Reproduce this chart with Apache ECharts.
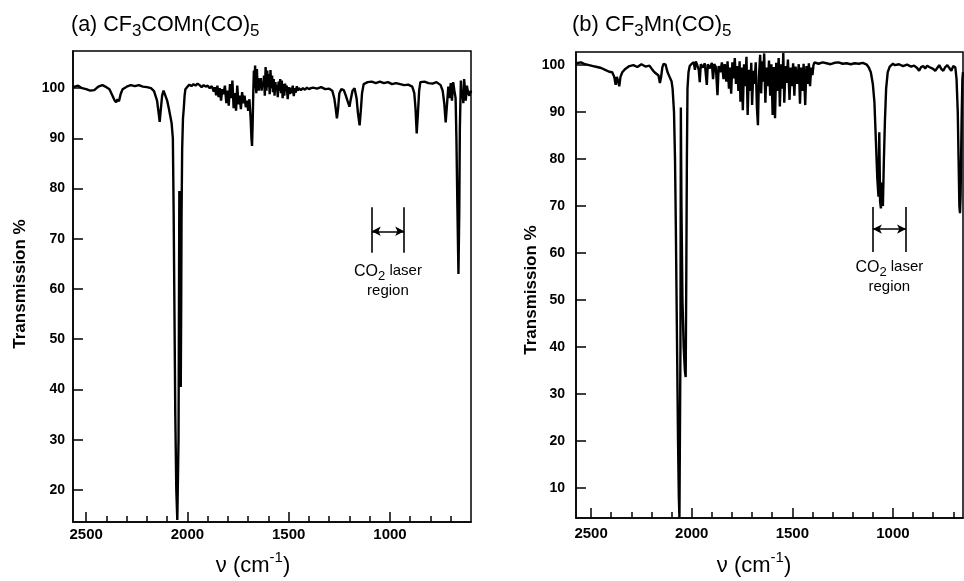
<!DOCTYPE html>
<html><head><meta charset="utf-8">
<script src="https://cdn.jsdelivr.net/npm/echarts@6/dist/echarts.min.js"></script>
<style>html,body{margin:0;padding:0;background:#fff}#c{width:964px;height:581px}</style>
</head><body><div id="c"></div>
<script>
// ---- data: [wavenumber cm-1, transmission %] ----
const specA = [
[2565,100.2],[2540,100.5],[2520,100.0],[2500,99.8],[2480,99.5],[2460,99.6],[2440,100.3],[2420,100.6],[2400,100.2],[2385,99.8],
[2370,98.5],[2360,97.6],[2352,97.2],[2345,97.8],[2338,97.4],[2330,98.8],[2320,99.8],[2300,100.3],[2280,100.6],[2260,100.4],
[2240,100.6],[2220,100.3],[2200,100.2],[2180,100.0],[2165,99.4],[2150,97.5],[2142,95],[2137,93.3],[2132,95.5],[2125,98.5],
[2118,99.5],[2110,99.2],[2100,97.5],[2092,96],[2085,94.5],[2078,93],[2072,90],[2068,75],[2064,55],[2060,35],
[2055,20],[2050,14],[2047,14],[2044,30],[2042,55],[2040,79.5],[2038,65],[2035,45],[2033,40.5],[2031,55],
[2029,75],[2026,88],[2022,94],[2018,96],[2014,98.5],[2010,99.8],[2000,100.3],[1990,100.7],[1980,100.4],[1970,100.8],
[1960,100.5],[1950,100.9],[1940,100.6],[1930,100.2],[1920,100.6],[1910,100.3],[1900,100.5],[1890,100.0],[1880,100.4],[1870,99.3],
[1865,100.2],[1858,98.6],[1852,100.5],[1846,98.2],[1840,100.0],[1834,97.5],[1828,99.8],[1822,98.8],[1815,100.5],[1808,97.0],
[1802,99.5],[1796,96.5],[1790,100.8],[1784,98.0],[1778,101.5],[1772,96.0],[1766,99.0],[1760,95.5],[1754,100.5],[1748,96.8],
[1742,98.5],[1736,95.8],[1730,99.2],[1724,97.0],[1718,98.5],[1712,96.2],[1706,97.5],[1700,95.5],[1694,97.8],[1688,94],
[1684,90],[1681,88.5],[1678,93],[1675,99],[1672,103.5],[1669,100],[1666,104.5],[1663,101],[1660,99.0],[1657,103.8],
[1654,100.5],[1651,102],[1648,99.5],[1645,101.5],[1642,100],[1638,102],[1634,99.5],[1630,101],[1626,100.5],[1622,102.5],
[1618,98.5],[1614,104.2],[1610,99.5],[1606,103.5],[1602,100.2],[1598,102.8],[1594,98.8],[1590,103.6],[1586,100.0],[1582,102.5],
[1578,99.2],[1574,101.8],[1570,98.5],[1566,101.2],[1562,99.8],[1558,100.6],[1554,98.2],[1550,101.3],[1546,99.5],[1542,101.8],
[1538,99],[1534,101.5],[1530,98],[1526,100.8],[1522,98.5],[1518,100.9],[1514,99.4],[1510,100.5],[1505,97.8],[1500,100.2],
[1495,98.8],[1490,100.1],[1485,99.0],[1480,100.5],[1475,98.4],[1470,100.0],[1465,99.1],[1460,100.4],[1455,99.5],[1450,100.0],
[1440,99.6],[1430,100.0],[1420,99.7],[1410,100.1],[1400,99.8],[1390,100.0],[1380,100.1],[1360,99.9],[1340,100.2],[1320,99.8],
[1300,99.9],[1285,99.5],[1275,98],[1268,96],[1262,94],[1256,96],[1250,99],[1240,99.8],[1228,99.6],[1218,98.5],
[1210,97.5],[1200,96.3],[1195,97.5],[1185,99.5],[1175,100],[1165,98],[1158,95],[1150,92.6],[1144,95.5],[1138,99],
[1130,100.8],[1110,101.2],[1090,101.3],[1070,101.0],[1050,101.3],[1030,101.0],[1010,101.2],[990,100.8],[970,101.0],[950,100.8],
[930,100.6],[910,100.7],[890,100.3],[880,99.0],[874,96],[868,91],[862,95],[856,99.5],[850,101.2],[830,101.3],
[810,101.0],[790,100.9],[770,101.2],[750,100.6],[740,99.5],[732,97],[725,93.2],[718,97],[712,100.3],[706,98],
[700,101],[694,97.5],[688,101.2],[682,99.5],[676,98],[672,90],[667,76],[662,63],[658,75],[655,92],
[650,101.5],[646,98],[642,99.5],[638,97],[634,101.8],[630,100],[626,97.5],[620,100.5],[614,99],[608,98.5],
[602,99.5],[600,99]
];
const specB = [
[2575,100.4],[2550,100.6],[2530,100.2],[2510,100.0],[2490,99.8],[2470,99.6],[2450,99.4],[2430,99.0],[2410,98.6],[2395,98.5],
[2385,97.5],[2378,95.8],[2372,97.5],[2366,96.6],[2360,95.5],[2354,97.5],[2345,98.5],[2330,99.2],[2310,99.8],[2290,100.0],
[2270,99.6],[2250,100.2],[2230,99.7],[2210,99.9],[2195,99.0],[2185,98.5],[2178,98.6],[2165,97.8],[2158,96.2],[2152,97.5],
[2146,99.5],[2140,100.3],[2130,100.1],[2120,98.5],[2110,97.5],[2100,96.5],[2095,95],[2088,90],[2083,80],[2079,66],
[2074,45],[2068,20],[2064,8],[2061,3.7],[2058,3.7],[2056,40],[2054,91],[2051,70],[2046,50],[2040,40],
[2034,35],[2030,33.6],[2027,55],[2024,80],[2021,95],[2016,98.5],[2010,99.8],[2000,100.3],[1990,100.6],[1984,99.0],
[1980,100.8],[1975,100.3],[1965,99.0],[1960,96.4],[1955,100.2],[1945,99.5],[1935,100.4],[1925,95.8],[1920,100.2],[1910,99.3],
[1900,100.5],[1894,97],[1888,100.2],[1880,99.6],[1872,93.6],[1866,99.8],[1858,98.5],[1850,100.6],[1842,97.0],[1836,100.2],
[1828,96.5],[1822,100.8],[1815,95],[1810,99.5],[1804,93.9],[1798,100.6],[1792,97.2],[1786,101.5],[1780,96.0],[1774,99.8],
[1768,94.5],[1762,100.8],[1758,92.2],[1752,99.5],[1746,90.4],[1740,100.2],[1734,95.5],[1728,101.8],[1722,89.4],[1716,99.0],
[1710,94.5],[1704,100.5],[1700,91.5],[1694,98.8],[1688,96],[1682,100.6],[1676,91],[1671,87.2],[1666,97.5],[1660,102.2],
[1655,94],[1650,100.8],[1645,96.5],[1640,102.5],[1634,92],[1628,99.5],[1622,95.5],[1616,101],[1610,93.5],[1604,100.2],
[1598,89.4],[1592,99.6],[1586,88.7],[1580,100.5],[1574,94.5],[1568,101.5],[1562,91.2],[1556,100.2],[1550,95],[1545,102.6],
[1540,92],[1534,99.8],[1528,96.2],[1522,101.2],[1514,92.6],[1508,99.5],[1502,95.5],[1496,100.4],[1490,93.5],[1484,99.7],
[1476,96],[1468,100.2],[1462,91.8],[1456,99.5],[1450,94.5],[1444,100.3],[1436,91.5],[1430,99.8],[1424,96],[1418,100.4],
[1412,95.5],[1406,99.5],[1400,97.9],[1395,100],[1390,100.6],[1370,100.3],[1350,100.6],[1330,100.4],[1310,100.2],[1290,100.5],
[1270,100.6],[1250,100.3],[1230,100.4],[1210,100.2],[1190,100.4],[1170,100.3],[1150,100.5],[1130,100.1],[1120,99.5],[1110,98.5],
[1100,96],[1092,92],[1085,84],[1078,76],[1072,72],[1068,85.7],[1064,71],[1060,69.5],[1056,75],[1050,70],
[1045,80],[1040,88],[1034,95],[1026,98.5],[1016,99.7],[1000,100.3],[990,100.0],[970,100.2],[950,99.8],[930,100.1],
[910,99.7],[895,99.9],[880,99.4],[870,98.8],[860,99.6],[850,99.8],[840,99.3],[830,99.9],[820,99.6],[800,99.2],
[790,98.8],[780,99.4],[770,100.0],[760,99.2],[750,98.8],[740,99.6],[730,100.0],[720,99.4],[710,98.8],[700,99.8],
[690,99.5],[684,97],[678,90],[674,80],[670,70],[667,68.5],[664,72],[659,88],[655,97],[652,98.5]
];
const xRangeA = [600, 2565];
const yRangeA = [13.6, 107.4];
const xRangeB = [652, 2575];
const yRangeB = [3.6, 102.8];
const yTicksA = [20,30,40,50,60,70,80,90,100];
const yTicksB = [10,20,30,40,50,60,70,80,90,100];
const xMajorTicks = [1000,1500,2000,2500];
const xMinorTicksA = [700,800,900,1000,1100,1200,1300,1400,1500,1600,1700,1800,1900,2000,2100,2200,2300,2400,2500];
const xMinorTicksB = [700,800,900,1000,1100,1200,1300,1400,1500,1600,1700,1800,1900,2000,2100,2200,2300,2400,2500];
// CO2 laser region annotation (data units)
const laserA = {hi:1090, lo:930, top:76.3, bot:67.2, arrow:71.5, textX:1010, text1:63.4, text2:59.6};
const laserB = {hi:1100, lo:935, top:69.8, bot:60.2, arrow:65.1, textX:1018, text1:56.8, text2:52.8};

const FONT = '"Liberation Sans", Arial, Helvetica, sans-serif';
const chart = echarts.init(document.getElementById('c'), null, {renderer:'canvas'});
const plain = v => String(v);

function xAxes(range, grid, labelMargin, minor) {
  return [
    {type:'value', gridIndex:grid, inverse:true, min:range[0], max:range[1], position:'bottom',
     axisLine:{show:true, lineStyle:{color:'#000', width:1.5}},
     axisTick:{show:true, inside:true, length:10, customValues:xMajorTicks, lineStyle:{color:'#000', width:1.5}},
     axisLabel:{show:true, customValues:xMajorTicks, formatter:plain, margin:labelMargin, color:'#000', fontFamily:FONT, fontWeight:'bold', fontSize:15},
     splitLine:{show:false}},
    {type:'value', gridIndex:grid, inverse:true, min:range[0], max:range[1], position:'bottom', offset:0,
     axisLine:{show:false},
     axisTick:{show:true, inside:true, length:6, customValues:minor, lineStyle:{color:'#000', width:1.5}},
     axisLabel:{show:false}, splitLine:{show:false}}
  ];
}
function yAxis(range, grid, ticks, labelMargin) {
  return {type:'value', gridIndex:grid, min:range[0], max:range[1],
    axisLine:{show:true, lineStyle:{color:'#000', width:1.5}},
    axisTick:{show:true, inside:true, length:10, customValues:ticks, lineStyle:{color:'#000', width:1.5}},
    axisLabel:{show:true, customValues:ticks, formatter:plain, margin:labelMargin, color:'#000', fontFamily:FONT, fontWeight:'bold', fontSize:14},
    splitLine:{show:false}};
}
function laserLines(L) {
  return {silent:true, symbol:['none','none'], label:{show:false}, animation:false,
    lineStyle:{color:'#000', type:'solid', width:1.6},
    data:[
      [{coord:[L.hi, L.top]}, {coord:[L.hi, L.bot]}],
      [{coord:[L.lo, L.top]}, {coord:[L.lo, L.bot]}],
      [{coord:[L.hi, L.arrow], symbol:'arrow', symbolSize:[7,9]}, {coord:[L.lo, L.arrow], symbol:'arrow', symbolSize:[7,9]}]
    ]};
}

chart.setOption({
  animation:false,
  backgroundColor:'#fff',
  grid:[
    {left:73, top:51, width:398, height:471, show:true, borderColor:'#000', borderWidth:1.5, containLabel:false},
    {left:576, top:52, width:387, height:466, show:true, borderColor:'#000', borderWidth:1.5, containLabel:false}
  ],
  xAxis:[...xAxes(xRangeA, 0, 5, xMinorTicksA), ...xAxes(xRangeB, 1, 8, xMinorTicksB)],
  yAxis:[yAxis(yRangeA, 0, yTicksA, 8), yAxis(yRangeB, 1, yTicksB, 11)],
  series:[
    {type:'line', xAxisIndex:0, yAxisIndex:0, data:specA, showSymbol:false, symbol:'none',
     lineStyle:{color:'#000', width:2.4}, clip:true, markLine:laserLines(laserA)},
    {type:'line', xAxisIndex:2, yAxisIndex:1, data:specB, showSymbol:false, symbol:'none',
     lineStyle:{color:'#000', width:2.4}, clip:true, markLine:laserLines(laserB)}
  ]
});

// ---- text with sub/superscripts ----
const mctx = document.createElement('canvas').getContext('2d');
function tw(t, size, weight) { mctx.font = (weight||'normal') + ' ' + size + 'px ' + FONT; return mctx.measureText(t).width; }
// parts: [text, size, dy]
function richLine(x, y, parts, weight, align) {
  let total = 0; parts.forEach(p => total += tw(p[0], p[1], weight));
  let cx = align === 'center' ? x - total/2 : x;
  const els = [];
  parts.forEach(p => {
    els.push({type:'text', silent:true, style:{text:p[0], x:cx, y:y + p[2], font:(weight||'normal') + ' ' + p[1] + 'px ' + FONT,
      fill:'#000', textAlign:'left', textVerticalAlign:'middle'}});
    cx += tw(p[0], p[1], weight);
  });
  return els;
}
function px(grid, pt) { return chart.convertToPixel({gridIndex:grid}, pt); }

const g = [];
g.push(...richLine(71, 25, [['(a) CF',21.5,0],['3',17,6],['COMn(CO)',21.5,0],['5',17,6]]));
g.push(...richLine(572, 25, [['(b) CF',22,0],['3',17,6],['Mn(CO)',22,0],['5',17,6]]));
g.push(...richLine(253, 566, [['ν (cm',22,0],['-1',15,-8],[')',22,0]], 'normal', 'center'));
g.push(...richLine(754, 566, [['ν (cm',22,0],['-1',15,-8],[')',22,0]], 'normal', 'center'));
g.push({type:'text', silent:true, x:20, y:284, rotation:Math.PI/2,
  style:{text:'Transmission %', font:'bold 17px ' + FONT, fill:'#000', textAlign:'center', textVerticalAlign:'middle'}});
g.push({type:'text', silent:true, x:531, y:290, rotation:Math.PI/2,
  style:{text:'Transmission %', font:'bold 17px ' + FONT, fill:'#000', textAlign:'center', textVerticalAlign:'middle'}});
[[0, laserA],[1, laserB]].forEach(([gi, L]) => {
  const p1 = px(gi, [L.textX, L.text1]);
  const p2 = px(gi, [L.textX, L.text2]);
  g.push(...richLine(p1[0], p1[1], [['CO',16,0],['2',13,4],[' laser',15,-1]], 'normal', 'center'));
  g.push(...richLine(p2[0], p2[1], [['region',15,0]], 'normal', 'center'));
});
chart.setOption({graphic:g});
</script>
</body></html>
